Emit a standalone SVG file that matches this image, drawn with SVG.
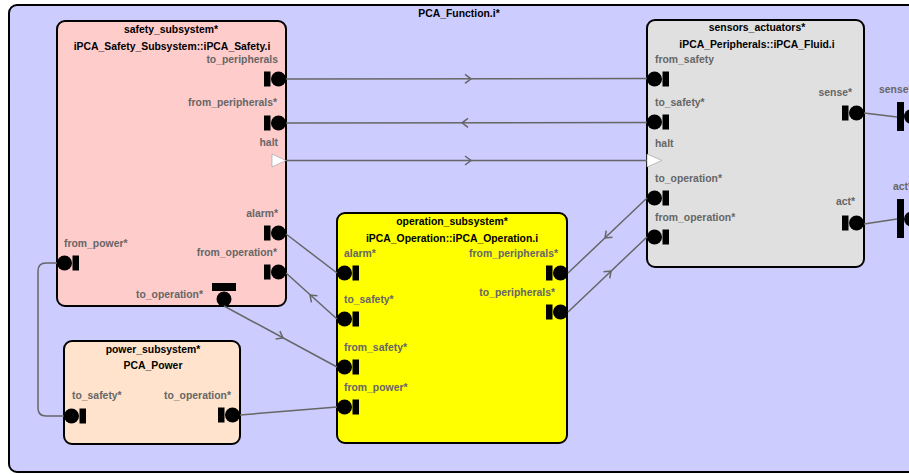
<svg xmlns="http://www.w3.org/2000/svg" xmlns:xlink="http://www.w3.org/1999/xlink" width="909" height="474" viewBox="0 0 909 474">
<style>
.box{stroke:#000;stroke-width:2}
.ttl{font-family:"Liberation Sans",Arial,sans-serif;font-weight:bold;font-size:10.4px;fill:#000;text-anchor:middle}
.lbl{font-family:"Liberation Sans",Arial,sans-serif;font-weight:bold;font-size:10.4px;fill:#666}
.end{text-anchor:end}
.port{fill:#000}
.conn{fill:none;stroke:#666;stroke-width:1.5}
.tri{fill:#fff;stroke:#999;stroke-width:0.6}
</style>
<defs>
<g id="portR"><rect x="-22" y="-7.5" width="6.5" height="15"/><circle cx="-7.5" cy="0" r="7.5"/></g>
<g id="portL"><circle cx="7.5" cy="0" r="7.5"/><rect x="15.5" y="-7.5" width="6.5" height="15"/></g>
<path id="chev" d="M-6,-4.5 L0,0 L-6,4.5" fill="none" stroke="#666" stroke-width="1.5"/>
</defs>
<rect width="909" height="474" fill="#fff"/>
<g id="PCA_Function">
<rect class="box" x="9" y="5" width="940" height="467" rx="8" fill="#ccccff"/>
<text class="ttl" x="459" y="17">PCA_Function.i*</text>
</g>
<g id="safety_subsystem">
<rect class="box" x="57" y="21" width="229" height="285" rx="8" fill="#ffcccc"/>
<text class="ttl" x="171" y="33">safety_subsystem*</text>
<text class="ttl" x="172" y="50">iPCA_Safety_Subsystem::iPCA_Safety.i</text>
<text class="lbl end" x="278" y="63">to_peripherals</text>
<use class="port" xlink:href="#portR" x="286" y="79"/>
<text class="lbl end" x="277" y="106">from_peripherals*</text>
<use class="port" xlink:href="#portR" x="286" y="123"/>
<text class="lbl end" x="278" y="146">halt</text>
<polygon class="tri" points="272,154 286,160.5 272,167"/>
<text class="lbl end" x="278" y="217">alarm*</text>
<use class="port" xlink:href="#portR" x="286" y="233"/>
<text class="lbl end" x="277" y="256">from_operation*</text>
<use class="port" xlink:href="#portR" x="286" y="272"/>
<text class="lbl" x="64" y="247">from_power*</text>
<use class="port" xlink:href="#portL" x="57" y="263"/>
<text class="lbl end" x="203" y="298">to_operation*</text>
<rect class="port" x="212" y="283" width="24" height="8"/>
<circle class="port" cx="224" cy="299" r="7.5"/>
</g>
<g id="power_subsystem">
<rect class="box" x="64" y="341" width="176" height="103" rx="8" fill="#ffe3cc" stroke-width="1.5"/>
<text class="ttl" x="153" y="353">power_subsystem*</text>
<text class="ttl" x="153" y="369">PCA_Power</text>
<text class="lbl" x="72" y="399">to_safety*</text>
<use class="port" xlink:href="#portL" x="64" y="416"/>
<text class="lbl end" x="231" y="399">to_operation*</text>
<use class="port" xlink:href="#portR" x="240" y="415"/>
</g>
<g id="operation_subsystem">
<rect class="box" x="337" y="213" width="230" height="230" rx="8" fill="#ffff00"/>
<text class="ttl" x="452" y="225">operation_subsystem*</text>
<text class="ttl" x="452" y="242">iPCA_Operation::iPCA_Operation.i</text>
<text class="lbl" x="344" y="257">alarm*</text>
<use class="port" xlink:href="#portL" x="337" y="273"/>
<text class="lbl" x="344" y="303">to_safety*</text>
<use class="port" xlink:href="#portL" x="337" y="319"/>
<text class="lbl" x="344" y="351">from_safety*</text>
<use class="port" xlink:href="#portL" x="337" y="367"/>
<text class="lbl" x="344" y="391">from_power*</text>
<use class="port" xlink:href="#portL" x="337" y="407"/>
<text class="lbl end" x="558" y="257">from_peripherals*</text>
<use class="port" xlink:href="#portR" x="568" y="273"/>
<text class="lbl end" x="555" y="296">to_peripherals*</text>
<use class="port" xlink:href="#portR" x="568" y="312"/>
</g>
<g id="sensors_actuators">
<rect class="box" x="647" y="20" width="217" height="247" rx="8" fill="#e0e0e0"/>
<text class="ttl" x="757" y="31">sensors_actuators*</text>
<text class="ttl" x="757" y="48">iPCA_Peripherals::iPCA_Fluid.i</text>
<text class="lbl" x="655" y="63">from_safety</text>
<use class="port" xlink:href="#portL" x="647" y="79"/>
<text class="lbl" x="655" y="106">to_safety*</text>
<use class="port" xlink:href="#portL" x="647" y="122"/>
<text class="lbl" x="655" y="147">halt</text>
<polygon class="tri" points="647,154 662,160.5 647,167"/>
<text class="lbl" x="655" y="182">to_operation*</text>
<use class="port" xlink:href="#portL" x="647" y="198"/>
<text class="lbl" x="655" y="221">from_operation*</text>
<use class="port" xlink:href="#portL" x="647" y="237"/>
<text class="lbl end" x="852" y="96">sense*</text>
<use class="port" xlink:href="#portR" x="864" y="113"/>
<text class="lbl end" x="855" y="205">act*</text>
<use class="port" xlink:href="#portR" x="864" y="223"/>
</g>
<g id="external_ports">
<text class="lbl" x="879" y="93">sense*</text>
<rect class="port" x="897" y="102" width="7" height="29"/>
<circle class="port" cx="911.5" cy="116.5" r="7.5"/>
<text class="lbl" x="893" y="190">act*</text>
<rect class="port" x="897" y="199" width="7" height="39"/>
<circle class="port" cx="911.5" cy="219" r="7.5"/>
</g>
<g id="connectors">
<path class="conn" d="M286,79 L647,78.5"/>
<use xlink:href="#chev" transform="translate(471,78.8)"/>
<path class="conn" d="M647,122.5 L286,123"/>
<use xlink:href="#chev" transform="translate(462,122.8) rotate(180)"/>
<path class="conn" d="M286,160.5 L647,160.5"/>
<use xlink:href="#chev" transform="translate(471,160.5)"/>
<path class="conn" d="M286,234 L337,273"/>
<path class="conn" d="M337,319 L286,273"/>
<use xlink:href="#chev" transform="translate(310,295) rotate(222)"/>
<path class="conn" d="M224,306 L337,367"/>
<use xlink:href="#chev" transform="translate(283,338) rotate(28.4)"/>
<path class="conn" d="M240,415 L337,407"/>
<path class="conn" d="M64,416 L46,416 Q38,416 38,408 L38,271 Q38,263 46,263 L57,263"/>
<path class="conn" d="M647,198 L568,273"/>
<use xlink:href="#chev" transform="translate(605,238) rotate(136.5)"/>
<path class="conn" d="M568,312 L647,237"/>
<use xlink:href="#chev" transform="translate(611,271) rotate(-43.5)"/>
<path class="conn" d="M864,113 L897,117"/>
<path class="conn" d="M864,224 L897,219"/>
</g>
</svg>
